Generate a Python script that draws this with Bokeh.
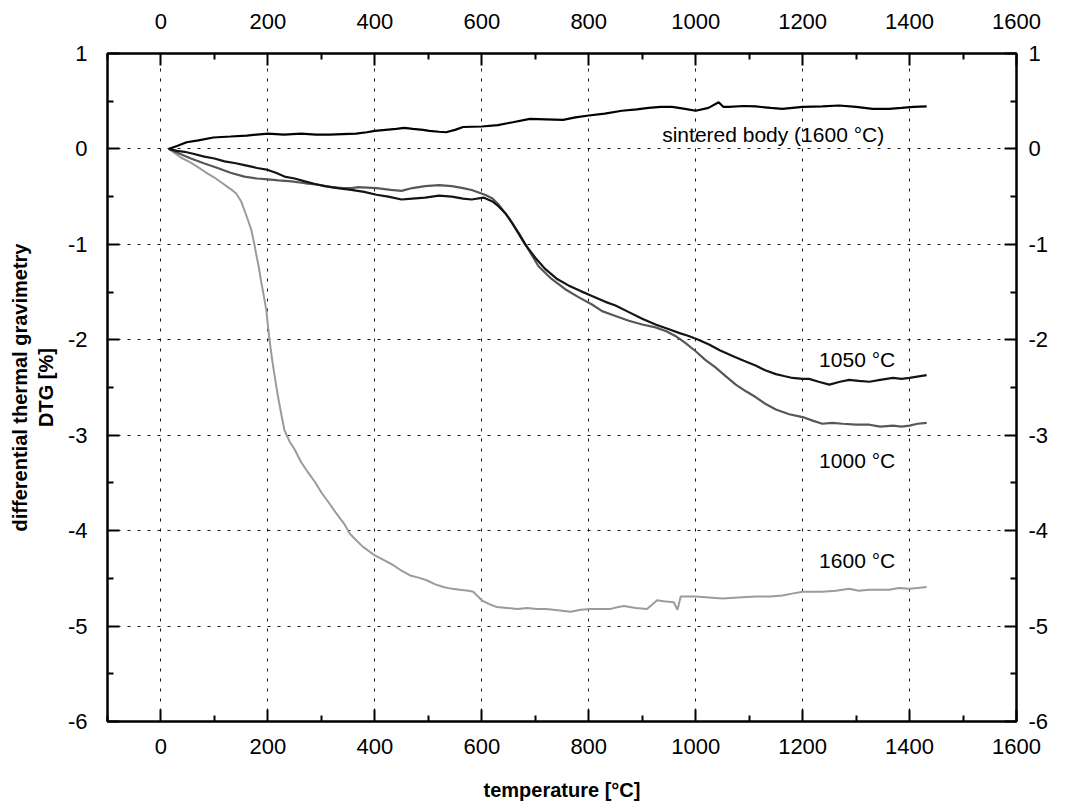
from bokeh.plotting import figure
from bokeh.models import Range1d, LinearAxis, FixedTicker, Label, CustomJSTickFormatter
from bokeh.embed import file_html
from bokeh.resources import INLINE

# ---- data ----
sint_x = [14, 30, 48, 70, 98, 130, 160, 200, 230, 262, 290, 315, 340, 365, 385, 400, 420, 440, 455, 471,
          490, 502, 520, 533, 550, 565, 600, 630, 658, 690, 720, 752, 775, 800, 830, 862, 890, 912, 935,
          956, 980, 1000, 1024, 1043, 1052, 1062, 1090, 1112, 1140, 1162, 1200, 1237, 1268, 1300, 1331,
          1362, 1385, 1407, 1432]
sint_y = [0, 0.03, 0.07, 0.09, 0.12, 0.13, 0.14, 0.16, 0.15, 0.16, 0.15, 0.15, 0.155, 0.16, 0.175, 0.19,
          0.2, 0.21, 0.22, 0.21, 0.2, 0.19, 0.18, 0.175, 0.2, 0.23, 0.235, 0.25, 0.28, 0.315, 0.31, 0.305,
          0.33, 0.35, 0.37, 0.40, 0.415, 0.43, 0.44, 0.44, 0.42, 0.40, 0.43, 0.49, 0.44, 0.44, 0.45, 0.445,
          0.43, 0.42, 0.44, 0.445, 0.455, 0.44, 0.42, 0.42, 0.43, 0.44, 0.445]

t1050_x = [15, 30, 44, 60, 81, 100, 119, 140, 156, 180, 200, 215, 231, 250, 269, 290, 306, 330, 356, 380,
           403, 425, 450, 470, 494, 520, 544, 565, 581, 603, 620, 631, 645, 656, 668, 681, 700, 719, 740,
           762, 785, 806, 830, 850, 875, 900, 925, 950, 970, 987, 1005, 1025, 1045, 1069, 1090, 1112, 1130,
           1150, 1165, 1181, 1200, 1212, 1230, 1250, 1270, 1287, 1305, 1325, 1345, 1369, 1385, 1400, 1420,
           1432]
t1050_y = [0, -0.02, -0.03, -0.05, -0.08, -0.1, -0.13, -0.15, -0.17, -0.2, -0.22, -0.25, -0.29, -0.31,
           -0.34, -0.37, -0.39, -0.41, -0.43, -0.45, -0.48, -0.5, -0.53, -0.52, -0.51, -0.49, -0.5, -0.52,
           -0.53, -0.51, -0.55, -0.6, -0.68, -0.77, -0.88, -1.0, -1.14, -1.26, -1.36, -1.43, -1.49, -1.54,
           -1.6, -1.64, -1.71, -1.78, -1.84, -1.89, -1.93, -1.96, -2.0, -2.05, -2.11, -2.17, -2.22, -2.27,
           -2.32, -2.36, -2.38, -2.4, -2.41, -2.41, -2.44, -2.47, -2.44, -2.42, -2.43, -2.44, -2.42, -2.4,
           -2.41, -2.4, -2.38, -2.37]

t1000_x = [15, 35, 56, 80, 106, 130, 156, 180, 200, 220, 244, 270, 294, 320, 340, 356, 369, 403, 430, 450,
           470, 494, 520, 544, 565, 581, 606, 620, 631, 650, 669, 688, 706, 730, 756, 780, 806, 825, 850,
           875, 900, 925, 945, 962, 980, 1000, 1018, 1037, 1056, 1075, 1094, 1112, 1130, 1150, 1175, 1200,
           1220, 1237, 1255, 1275, 1300, 1325, 1345, 1369, 1385, 1400, 1415, 1432]
t1000_y = [0, -0.05, -0.1, -0.15, -0.2, -0.25, -0.29, -0.31, -0.32, -0.33, -0.34, -0.36, -0.375, -0.4,
           -0.41, -0.41, -0.40, -0.41, -0.43, -0.44, -0.41, -0.39, -0.38, -0.39, -0.41, -0.43, -0.48, -0.52,
           -0.58, -0.72, -0.88, -1.06, -1.23, -1.36, -1.47, -1.55, -1.63, -1.7, -1.75, -1.8, -1.84, -1.87,
           -1.91, -1.96, -2.03, -2.12, -2.21, -2.29, -2.38, -2.47, -2.54, -2.6, -2.67, -2.73, -2.78, -2.81,
           -2.85, -2.88, -2.87, -2.88, -2.89, -2.89, -2.91, -2.9, -2.91, -2.9, -2.88, -2.87]

t1600_x = [15, 37, 55, 69, 85, 100, 115, 125, 135, 141, 150, 156, 163, 169, 174, 178, 183, 187, 192, 197,
           200, 203, 206, 209, 214, 219, 225, 231, 240, 250, 262, 275, 288, 300, 313, 328, 344, 353, 365,
           378, 400, 417, 434, 450, 466, 480, 497, 512, 528, 545, 559, 575, 584, 600, 614, 628, 647, 666,
           685, 703, 720, 734, 750, 766, 785, 803, 822, 841, 855, 866, 888, 909, 928, 940, 959, 966, 972,
           1000, 1025, 1050, 1080, 1112, 1140, 1162, 1180, 1200, 1237, 1262, 1287, 1305, 1325, 1345, 1362,
           1380, 1400, 1415, 1432]
t1600_y = [0, -0.09, -0.14, -0.19, -0.25, -0.3, -0.36, -0.4, -0.44, -0.47, -0.55, -0.64, -0.75, -0.85,
           -0.98, -1.1, -1.24, -1.38, -1.53, -1.69, -1.85, -2.0, -2.13, -2.25, -2.43, -2.6, -2.78, -2.95,
           -3.06, -3.15, -3.28, -3.39, -3.49, -3.6, -3.7, -3.82, -3.94, -4.03, -4.1, -4.17, -4.26, -4.31,
           -4.36, -4.42, -4.47, -4.49, -4.52, -4.56, -4.59, -4.61, -4.62, -4.63, -4.64, -4.73, -4.77, -4.8,
           -4.81, -4.82, -4.81, -4.82, -4.82, -4.83, -4.84, -4.85, -4.83, -4.82, -4.82, -4.82, -4.8, -4.79,
           -4.81, -4.82, -4.73, -4.74, -4.75, -4.83, -4.69, -4.69, -4.7, -4.71, -4.7, -4.69, -4.69, -4.68,
           -4.66, -4.64, -4.64, -4.63, -4.61, -4.63, -4.62, -4.62, -4.62, -4.6, -4.61, -4.6, -4.59]

x_ticks = [0, 200, 400, 600, 800, 1000, 1200, 1400, 1600]
x_minor = [-100, 100, 300, 500, 700, 900, 1100, 1300, 1500]
y_ticks = [-6, -5, -4, -3, -2, -1, 0, 1]
y_minor = [-5.5, -4.5, -3.5, -2.5, -1.5, -0.5, 0.5]

FONT = "Liberation Sans"

p = figure(width=1060, height=804, output_backend="svg", toolbar_location=None,
           x_range=Range1d(-100, 1600), y_range=Range1d(-6, 1),
           min_border_left=107, min_border_right=44, min_border_top=53, min_border_bottom=83)
p.outline_line_color = "black"
p.outline_line_width = 2
p.background_fill_color = "white"
p.border_fill_color = "white"

xt = FixedTicker(ticks=x_ticks, minor_ticks=x_minor)
yt = FixedTicker(ticks=y_ticks, minor_ticks=y_minor)
fmt_code = "return tick.toString();"


def style(ax, standoff):
    ax.formatter = CustomJSTickFormatter(code=fmt_code)
    ax.axis_line_color = "black"
    ax.axis_line_width = 2
    ax.major_tick_in = 12
    ax.major_tick_out = 0
    ax.minor_tick_in = 6
    ax.minor_tick_out = 0
    ax.major_tick_line_width = 2
    ax.minor_tick_line_width = 2
    ax.major_tick_line_color = "black"
    ax.minor_tick_line_color = "black"
    ax.major_label_text_font = FONT
    ax.major_label_text_font_size = "22px"
    ax.major_label_text_color = "black"
    ax.major_label_standoff = standoff
    ax.axis_label_text_font = FONT
    ax.axis_label_text_font_size = "20px"
    ax.axis_label_text_font_style = "bold"
    ax.axis_label_text_color = "black"


p.xaxis.ticker = xt
p.yaxis.ticker = yt
style(p.xaxis[0], 17)
style(p.yaxis[0], 20)
p.xaxis.axis_label = "temperature [°C]"
p.xaxis.axis_label_standoff = 22
p.yaxis.axis_label = "differential thermal gravimetry\nDTG [%]"
p.yaxis.axis_label_standoff = 8

top = LinearAxis(ticker=xt)
style(top, 25)
p.add_layout(top, "above")
right = LinearAxis(ticker=yt)
style(right, 12)
p.add_layout(right, "right")

for g, t in ((p.xgrid, xt), (p.ygrid, yt)):
    g.ticker = t
    g.grid_line_color = "black"
    g.grid_line_width = 1
    g.grid_line_dash = "3 7"
    g.grid_line_alpha = 0.9

p.line(t1600_x, t1600_y, line_color="#9b9b9b", line_width=2)
p.line(t1000_x, t1000_y, line_color="#575757", line_width=2.2)
p.line(t1050_x, t1050_y, line_color="#141414", line_width=2.2)
p.line(sint_x, sint_y, line_color="#000000", line_width=2.2)

for txt, lx, ly in (("sintered body (1600 °C)", 1145, 0.15),
                    ("1050 °C", 1302, -2.21),
                    ("1000 °C", 1302, -3.27),
                    ("1600 °C", 1302, -4.31)):
    p.add_layout(Label(x=lx, y=ly, text=txt, text_align="center", text_baseline="middle",
                       text_font=FONT, text_font_size="21px", text_color="black"))

open("out.html", "w").write(file_html(p, INLINE))
